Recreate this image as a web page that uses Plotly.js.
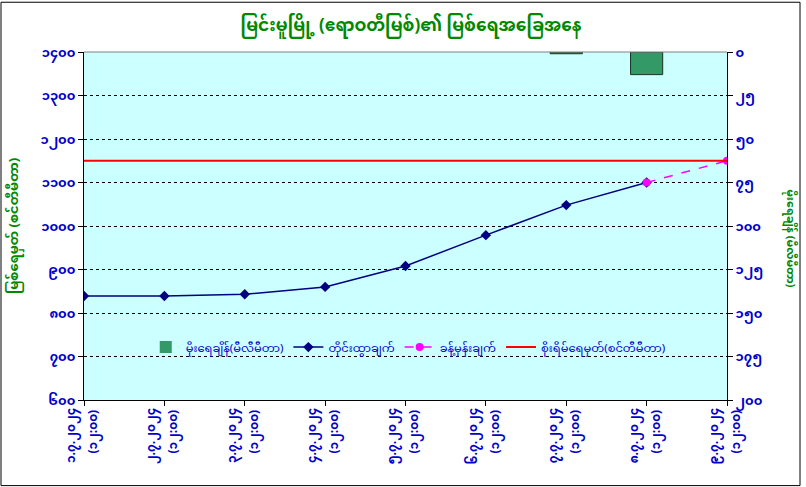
<!DOCTYPE html>
<html>
<head>
<meta charset="utf-8">
<script src="https://cdn.plot.ly/plotly-3.0.1.min.js"></script>
<style>
html,body{margin:0;padding:0;background:#fff;}
#chart{width:806px;height:487px;}
</style>
</head>
<body>
<div id="chart"></div>
<script>
// ---- data ----
var dates = ["၁.၇.၂၀၂၄","၂.၇.၂၀၂၄","၃.၇.၂၀၂၄","၄.၇.၂၀၂၄","၅.၇.၂၀၂၄","၆.၇.၂၀၂၄","၇.၇.၂၀၂၄","၈.၇.၂၀၂၄","၉.၇.၂၀၂၄"];
var times = ["(၁၂:၀၀)","(၁၂:၀၀)","(၁၂:၀၀)","(၁၂:၀၀)","(၁၂:၀၀)","(၁၂:၀၀)","(၁၂:၀၀)","(၁၂:၀၀)","(၁၂:၀၀)"];
var rainfall = [0, 0, 0, 0, 0, 0, 1, 13, 0];
var observed = [839, 839, 843, 860, 908, 979, 1048, 1100, null];
var forecast = [null, null, null, null, null, null, null, 1100, 1150];
var dangerLevel = [1150, 1150, 1150, 1150, 1150, 1150, 1150, 1150, 1150];
var leftTickVals = [600, 700, 800, 900, 1000, 1100, 1200, 1300, 1400];
var leftTickText = ["၆၀၀","၇၀၀","၈၀၀","၉၀၀","၁၀၀၀","၁၁၀၀","၁၂၀၀","၁၃၀၀","၁၄၀၀"];
var rightTickVals = [0, 25, 50, 75, 100, 125, 150, 175, 200];
var rightTickText = ["၀","၂၅","၅၀","၇၅","၁၀၀","၁၂၅","၁၅၀","၁၇၅","၂၀၀"];
var names = ["မိုးရေချိန်(မီလီမီတာ)","တိုင်းထွာချက်","ခန့်မှန်းချက်","စိုးရိမ်ရေမှတ်(စင်တီမီတာ)"];
var titleText = "မြင်းမူမြို့ (ဧရာဝတီမြစ်)၏ မြစ်ရေအခြေအနေ";
var leftTitle = "မြစ်ရေမှတ် (စင်တီမီတာ)";
var rightTitle = "မိုးရေချိန် (မီလီမီတာ)";

var FONT = "Noto Sans Myanmar, Padauk, Myanmar Text, Noto Sans, DejaVu Sans, sans-serif";
var BLUE = "#0000cc";
var GREEN = "#008800";

// page geometry (pixels)
var W = 806, H = 487, ML = 60, MR = 60, MT = 52, MB = 87;
var PW = W - ML - MR;
var plotL = 84, plotR = 727;
function dom(l, r) { return [(l - ML) / PW, (r - ML) / PW]; }
var mainDom = dom(plotL, plotR);
var dateDom = dom(plotL - 13, plotR - 13);
var timeDom = dom(plotL + 9, plotR + 9);

var idx = dates.map(function (d, i) { return i; });
var barLineWidths = rainfall.map(function (v) { return v > 0 ? 1 : 0; });

var traces = [
  {x: dates, y: rainfall, type: "bar", yaxis: "y2", name: names[0],
   width: 0.4, marker: {color: "#339966", line: {color: "#1a3320", width: barLineWidths}}},
  {x: dates, y: observed, type: "scatter", mode: "lines+markers", name: names[1],
   line: {color: "#000080", width: 1.5}, marker: {symbol: "diamond", size: 8, color: "#000080"}},
  {x: dates, y: forecast, type: "scatter", mode: "lines+markers", name: names[2],
   line: {color: "#ff00ff", width: 1.5, dash: "dash"}, marker: {symbol: "circle", size: 8, color: "#ff00ff"}},
  {x: dates, y: dangerLevel, type: "scatter", mode: "lines", name: names[3],
   line: {color: "#ff0000", width: 2}},
  // carriers for the two lines of x tick labels (date / time)
  {x: idx, y: dangerLevel, xaxis: "x2", yaxis: "y3", type: "scatter", mode: "lines", showlegend: false,
   hoverinfo: "skip", line: {color: "rgba(0,0,0,0)", width: 0}},
  {x: idx, y: dangerLevel, xaxis: "x3", yaxis: "y3", type: "scatter", mode: "lines", showlegend: false,
   hoverinfo: "skip", line: {color: "rgba(0,0,0,0)", width: 0}}
];

var tickFont = {family: FONT, size: 12, color: BLUE, weight: "bold"};

var layout = {
  width: W, height: H,
  margin: {l: ML, r: MR, t: MT, b: MB},
  paper_bgcolor: "#ffffff",
  plot_bgcolor: "rgba(0,0,0,0)",
  font: {family: FONT, color: BLUE, size: 12},
  title: {text: "<b>" + titleText + "</b>", font: {family: FONT, size: 17, color: GREEN}, x: 0.51, xanchor: "center", y: 0.948, yanchor: "middle"},
  showlegend: true,
  legend: {orientation: "h", x: 0.125, xanchor: "left", y: 0.152, yanchor: "middle",
           bgcolor: "rgba(0,0,0,0)", font: {family: FONT, size: 11.5, color: BLUE}, traceorder: "normal"},
  xaxis: {type: "category", domain: mainDom, range: [0, 8], showgrid: false, showline: true, linecolor: "#000", linewidth: 1,
          ticks: "outside", ticklen: 5, tickcolor: "#000", showticklabels: false, zeroline: false},
  xaxis2: {anchor: "free", position: 0, domain: dateDom, side: "bottom", type: "linear", range: [0, 8],
           tickvals: idx, ticktext: dates, showgrid: false, showline: false, ticks: "outside", ticklen: 2,
           tickcolor: "rgba(0,0,0,0)", tickangle: -90, tickfont: tickFont, zeroline: false, fixedrange: true},
  xaxis3: {anchor: "free", position: 0, domain: timeDom, side: "bottom", type: "linear", range: [0, 8],
           tickvals: idx, ticktext: times, showgrid: false, showline: false, ticks: "outside", ticklen: 4,
           tickcolor: "rgba(0,0,0,0)", tickangle: -90, tickfont: tickFont, zeroline: false, fixedrange: true},
  yaxis: {range: [600, 1400], tickvals: leftTickVals, ticktext: leftTickText,
          showgrid: true, gridcolor: "#000", griddash: "3px,3px", gridwidth: 1,
          showline: true, linecolor: "#000", linewidth: 1, ticks: "outside", ticklen: 5, tickcolor: "#000",
          tickfont: {family: FONT, size: 13, color: BLUE, weight: "bold"}, zeroline: false},
  yaxis2: {overlaying: "y", side: "right", range: [200, 0], tickvals: rightTickVals, ticktext: rightTickText,
           showgrid: false, showline: true, linecolor: "#000", linewidth: 1, ticks: "outside", ticklen: 5, tickcolor: "#000",
           tickfont: {family: FONT, size: 13, color: BLUE, weight: "bold"}, zeroline: false},
  yaxis3: {anchor: "free", position: 0, domain: [0, 1], range: [600, 1400], visible: false, showgrid: false,
           zeroline: false, fixedrange: true},
  shapes: [
    {type: "rect", xref: "x domain", yref: "y domain", x0: 0, x1: 1, y0: 0, y1: 1, layer: "below",
     fillcolor: "#ccffff", line: {width: 0}},
    {type: "line", xref: "x domain", yref: "y domain", x0: 0, x1: 1, y0: 1, y1: 1, line: {color: "#808080", width: 1}},
    {type: "rect", xref: "paper", yref: "paper", x0: (1 - ML) / PW, x1: (800 - ML) / PW, y0: -0.246, y1: 1.143, line: {color: "#000", width: 1}}
  ],
  annotations: [
    {text: "<b>" + leftTitle + "</b>", xref: "paper", yref: "paper", x: (15 - ML) / PW, y: 0.5, textangle: -90,
     showarrow: false, font: {family: FONT, size: 13, color: GREEN}, xanchor: "center", yanchor: "middle"},
    {text: "<b>" + rightTitle + "</b>", xref: "paper", yref: "paper", x: (790 - ML) / PW, y: 0.465, textangle: 90,
     showarrow: false, font: {family: FONT, size: 11, color: GREEN}, xanchor: "center", yanchor: "middle"}
  ]
};

Plotly.newPlot("chart", traces, layout, {displayModeBar: false, responsive: false});
</script>
</body>
</html>
